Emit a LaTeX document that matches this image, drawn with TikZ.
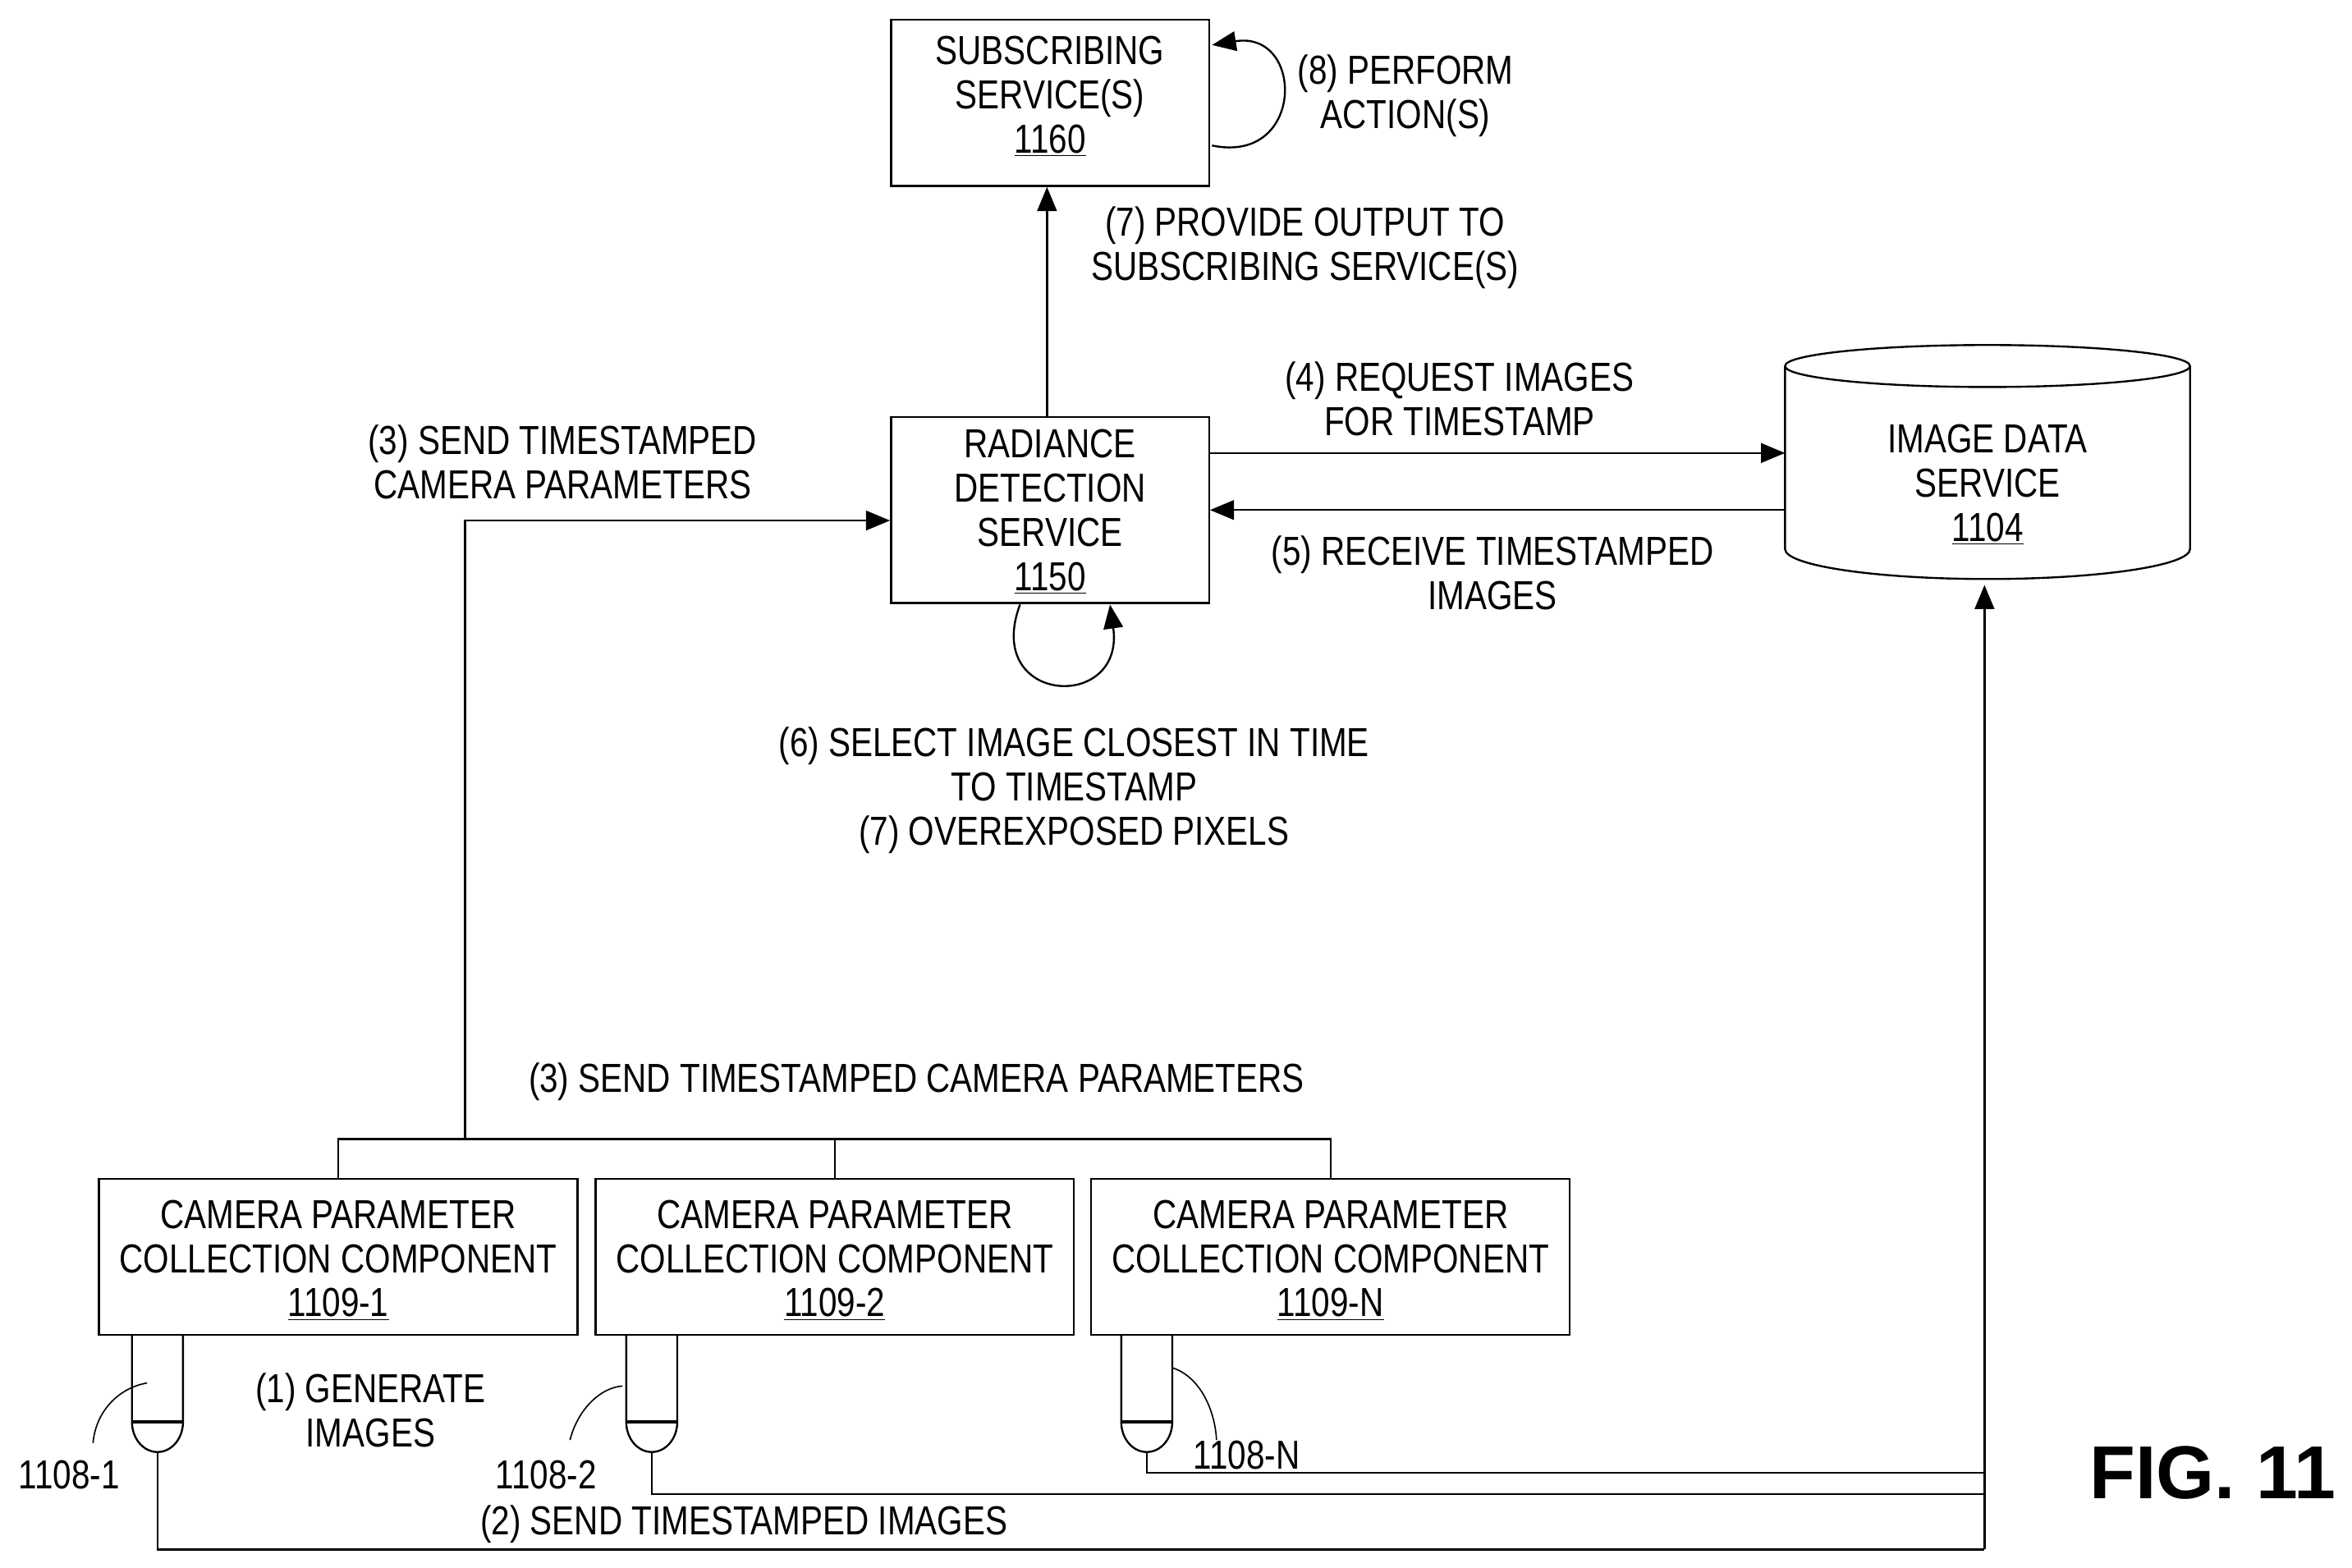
\documentclass[tikz,border=0pt]{standalone}
\usepackage{fontspec}
\setmainfont[FakeStretch=0.82]{Liberation Sans}
\newfontfamily\figfont{Liberation Sans}
\usetikzlibrary{arrows.meta,shapes.geometric}
\begin{document}
\begin{tikzpicture}[x=1pt,y=-1pt,line width=1.3pt,
  box/.style={draw,inner sep=0pt},
  txt/.style={font=\fontsize{27}{29.5}\selectfont,align=center,inner sep=0pt},
  arr/.style={-{Triangle[length=16pt,width=13pt]}},
  lead/.style={line width=0.9pt}]
\useasboundingbox (0,0) rectangle (1568,1045);
% boxes
\node[box,minimum width=212pt,minimum height=111pt] (sub) at (700,68.5) {};
\node[txt] at (700,64) {SUBSCRIBING\\SERVICE(S)\\\underline{1160}};
\node[box,minimum width=212pt,minimum height=124pt] (rad) at (700,340) {};
\node[txt] at (700,341) {RADIANCE\\DETECTION\\SERVICE\\\underline{1150}};
% cylinder drawn directly
\coordinate (ids) at (1325,308);
\draw (1190,244) arc[start angle=180,end angle=-180,x radius=135,y radius=14]
      (1190,244) -- (1190,366) arc[start angle=180,end angle=0,x radius=135,y radius=20] -- (1460,244);
\node[txt] at (1325,323) {IMAGE DATA\\SERVICE\\\underline{1104}};
\foreach \n/\x/\l in {c1/225.5/1109-1,c2/556.5/1109-2,cN/887/1109-N}{
  \node[box,minimum width=319pt,minimum height=104pt] (\n) at (\x,838) {};
  \node[txt] at (\x,840) {CAMERA PARAMETER\\COLLECTION COMPONENT\\\underline{\l}};
}
% cameras
\foreach \n/\x in {k1/105,k2/434.5,kN/764.5}{
  \draw (\x-17,890) -- (\x-17,948) arc[start angle=180,end angle=0,x radius=17,y radius=20] -- (\x+17,890);
  \draw[line width=2.5pt] (\x-17,948) -- (\x+17,948);
  \coordinate (\n) at (\x,968);
}
% leaders
\draw[lead] (62,962) .. controls (64,940) and (80,925) .. (98,922);
\node[txt] at (46,983) {1108-1};
\draw[lead] (380,960) .. controls (385,940) and (400,925) .. (415,924);
\node[txt] at (364,983) {1108-2};
\draw[lead] (782,912) .. controls (800,918) and (810,940) .. (811,960);
\node[txt] at (831,970) {1108-N};
% image lines
\coordinate (bus) at (1323,1033);
\draw (k1) |- (bus);
\draw (k2) |- (1323,996);
\draw (kN) |- (1323,982);
\draw[arr] (bus) -- (1323,390);
\node[txt] at (496,1016) {(2) SEND TIMESTAMPED IMAGES};
\node[txt] at (247,940) {(1) GENERATE\\IMAGES};
% parameter bus
\draw (c1.north) -- ++(0,-26) -| (cN.north);
\draw (c2.north) -- ++(0,-26);
\draw[arr] (310,760) |- (rad.west |- 0,347);
\node[txt] at (375,308) {(3) SEND TIMESTAMPED\\CAMERA PARAMETERS};
\node[txt] at (611,721) {(3) SEND TIMESTAMPED CAMERA PARAMETERS};
% radiance <-> image data
\draw[arr] (rad.east |- 0,302) -- (1190,302);
\node[txt] at (973,266) {(4) REQUEST IMAGES\\FOR TIMESTAMP};
\draw[arr] (1190,340) -- (rad.east |- 0,340);
\node[txt] at (995,382) {(5) RECEIVE TIMESTAMPED\\IMAGES};
% to subscribing
\draw[arr] (rad.north -| 698,0) -- (sub.south -| 698,0);
\node[txt] at (870,165) {(7) PROVIDE OUTPUT TO\\SUBSCRIBING SERVICE(S)};
% self loops
\draw[arr] (808,97) .. controls (870,110) and (870,20) .. (808,30);
\node[txt] at (937,64) {(8) PERFORM\\ACTION(S)};
\draw[arr] (680,403) .. controls (655,470) and (750,475) .. (740,403);
\node[txt] at (716,527) {(6) SELECT IMAGE CLOSEST IN TIME\\TO TIMESTAMP\\(7) OVEREXPOSED PIXELS};
\node[font=\figfont\bfseries\fontsize{50}{50}\selectfont,inner sep=0pt] (fig) at (1475,982) {FIG. 11};
\end{tikzpicture}
\end{document}
